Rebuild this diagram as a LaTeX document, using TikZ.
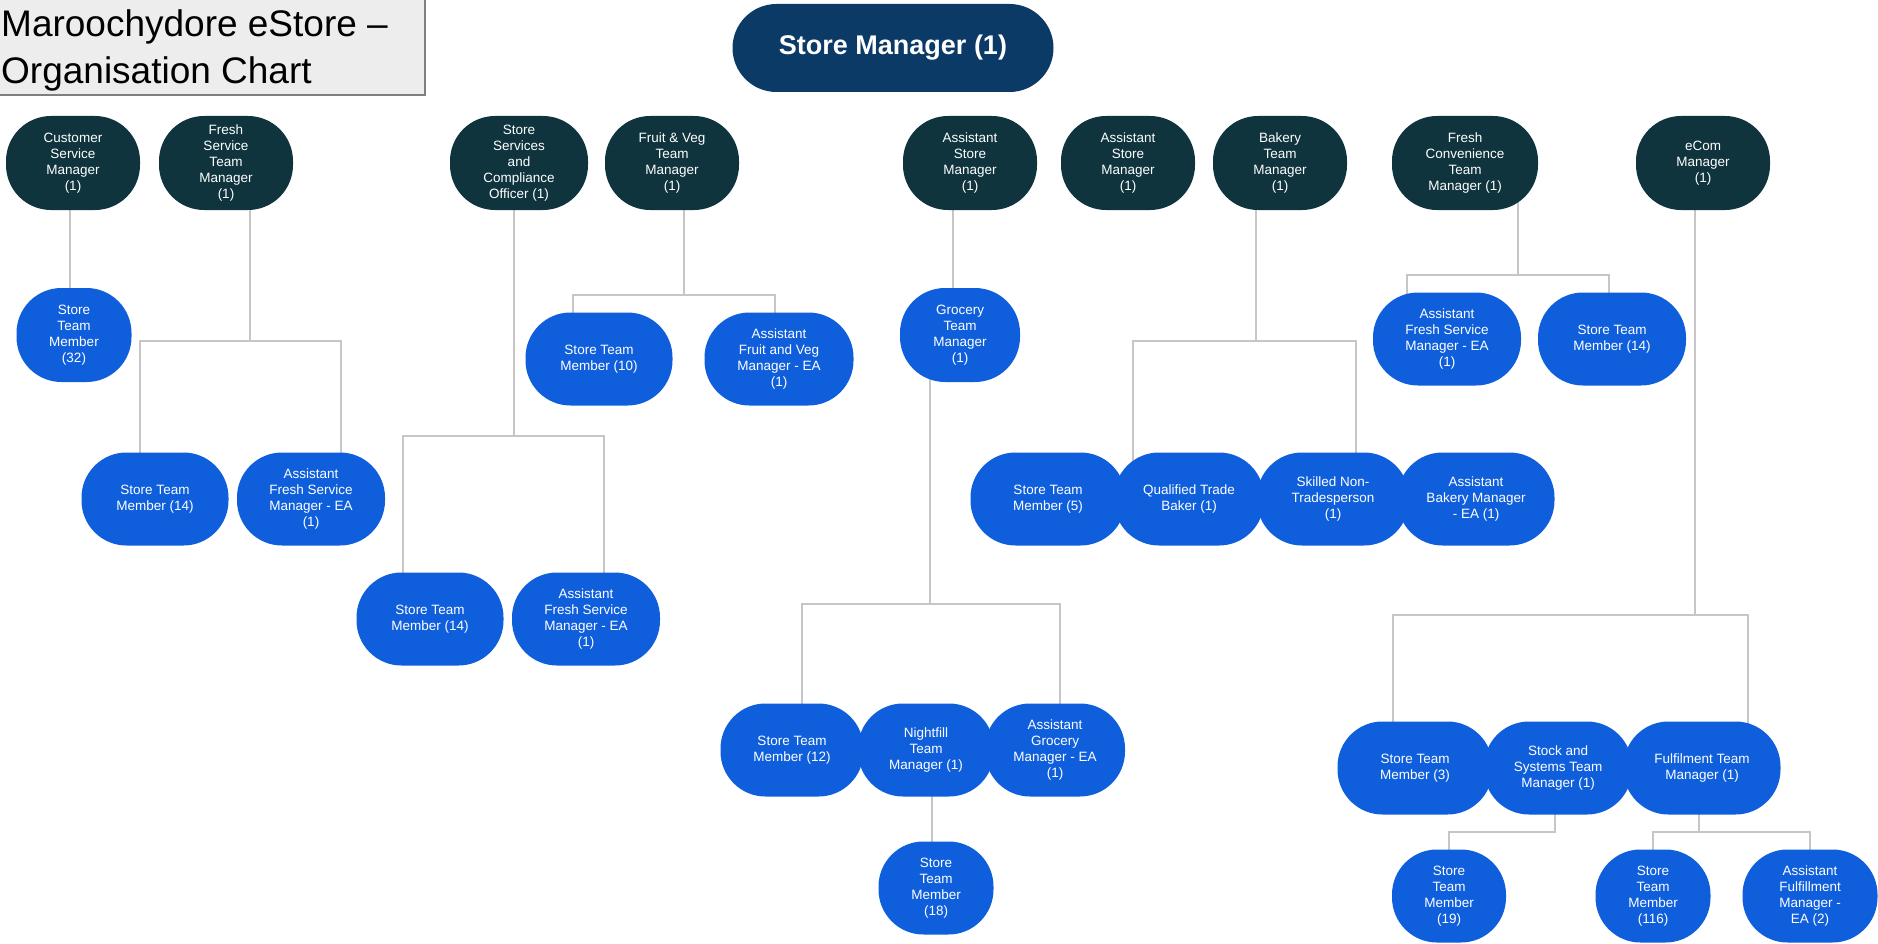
\documentclass[tikz,border=0pt]{standalone}
\usepackage{fontspec}
\setmainfont{Liberation Sans}
\pgfdeclarelayer{bg}
\pgfsetlayers{bg,main}
\definecolor{smnavy}{HTML}{0B3A66}
\definecolor{mgrteal}{HTML}{0F343E}
\definecolor{staffblue}{HTML}{0F5FDD}
\definecolor{linkgray}{HTML}{C6C6C6}
\definecolor{titlefill}{HTML}{EDEDED}
\definecolor{titleedge}{HTML}{7F7F7F}

\begin{document}
\begin{tikzpicture}[x=1pt,y=-1pt,
  box/.style={rectangle,rounded corners=45pt,inner sep=0pt,align=center,text=white,
    font=\fontsize{13.5}{16}\selectfont,minimum height=93pt},
  mgr/.style={box,fill=mgrteal,minimum width=134pt,minimum height=94pt},
  staff/.style={box,fill=staffblue,minimum width=#1},
  staff/.default=147pt,
  link/.style={draw=linkgray,line width=2pt}]
  \useasboundingbox (0,0) rectangle (1878,944);
  \draw[titleedge,fill=titlefill,line width=1.5pt] (-3,-3) rectangle (425,95);
  \node[anchor=north west,inner sep=0pt,align=left,font=\fontsize{37}{47}\selectfont] (title) at (1,9) {Maroochydore eStore –\\Organisation Chart};

  \node[box,fill=smnavy,minimum width=321pt,minimum height=88pt,rounded corners=44pt,
    font=\bfseries\fontsize{27}{32}\selectfont] (sm) at (893,48) {Store Manager (1)};

  \node[mgr] (csm) at (73,163) {Customer\\Service\\Manager\\(1)};
  \node[mgr] (fstm) at (226,163) {Fresh\\Service\\Team\\Manager\\(1)};
  \node[mgr,minimum width=138pt] (ssco) at (519,163) {Store\\Services\\and\\Compliance\\Officer (1)};
  \node[mgr] (fvm) at (672,163) {Fruit \& Veg\\Team\\Manager\\(1)};
  \node[mgr] (asmA) at (970,163) {Assistant\\Store\\Manager\\(1)};
  \node[mgr] (asmB) at (1128,163) {Assistant\\Store\\Manager\\(1)};
  \node[mgr] (btm) at (1280,163) {Bakery\\Team\\Manager\\(1)};
  \node[mgr,minimum width=146pt] (fctm) at (1465,163) {Fresh\\Convenience\\Team\\Manager (1)};
  \node[mgr] (ecom) at (1703,163) {eCom\\Manager\\(1)};

  \node[staff=115pt,minimum height=94pt] (stm32) at (74,335) {Store\\Team\\Member\\(32)};
  \node[staff] (stm14a) at (155,499) {Store Team\\Member (14)};
  \node[staff=148pt] (afsmA) at (311,499) {Assistant\\Fresh Service\\Manager - EA\\(1)};
  \node[staff] (stm14b) at (430,619) {Store Team\\Member (14)};
  \node[staff=148pt] (afsmB) at (586,619) {Assistant\\Fresh Service\\Manager - EA\\(1)};
  \node[staff] (stm10) at (599,359) {Store Team\\Member (10)};
  \node[staff=149pt] (afvm) at (779,359) {Assistant\\Fruit and Veg\\Manager - EA\\(1)};
  \node[staff=120pt,minimum height=94pt] (gtm) at (960,335) {Grocery\\Team\\Manager\\(1)};
  \node[staff=143pt] (stm12) at (792,750) {Store Team\\Member (12)};
  \node[staff=136pt] (ntm) at (926,750) {Nightfill\\Team\\Manager (1)};
  \node[staff=140pt] (agm) at (1055,750) {Assistant\\Grocery\\Manager - EA\\(1)};
  \node[staff=115pt] (stm18) at (936,888) {Store\\Team\\Member\\(18)};
  \node[staff=155pt] (stm5) at (1048,499) {Store Team\\Member (5)};
  \node[staff=150pt] (qtb) at (1189,499) {Qualified Trade\\Baker (1)};
  \node[staff=152pt] (snt) at (1333,499) {Skilled Non-\\Tradesperson\\(1)};
  \node[staff=157pt] (abm) at (1476,499) {Assistant\\Bakery Manager\\- EA (1)};
  \node[staff=148pt] (afsmC) at (1447,339) {Assistant\\Fresh Service\\Manager - EA\\(1)};
  \node[staff=148pt] (stm14c) at (1612,339) {Store Team\\Member (14)};
  \node[staff=155pt] (stm3) at (1415,768) {Store Team\\Member (3)};
  \node[staff=148pt] (sstm) at (1558,768) {Stock and\\Systems Team\\Manager (1)};
  \node[staff=157pt] (ftm) at (1702,768) {Fulfilment Team\\Manager (1)};
  \node[staff=114pt] (stm19) at (1449,896) {Store\\Team\\Member\\(19)};
  \node[staff=115pt] (stm116) at (1653,896) {Store\\Team\\Member\\(116)};
  \node[staff=135pt] (affm) at (1810,896) {Assistant\\Fulfillment\\Manager -\\EA (2)};

  \begin{pgfonlayer}{bg}
    \draw[link] ([xshift=-3pt]csm.center) -- ++(0,172);
    \draw[link] ([xshift=-17pt]asmA.center) -- ++(0,172);
    \draw[link] ([xshift=6pt]ntm.center) -- ++(0,138);
    \foreach \kid/\dx in {stm14a/-15,afsmA/30}
      \draw[link] ([xshift=24pt]fstm.center) -- ++(0,178) -| ([xshift=\dx pt]\kid.center);
    \foreach \kid/\dx in {stm14b/-27,afsmB/18}
      \draw[link] ([xshift=-5pt]ssco.center) -- ++(0,273) -| ([xshift=\dx pt]\kid.center);
    \foreach \kid/\dx in {stm10/-26,afvm/-4}
      \draw[link] ([xshift=12pt]fvm.center) -- ++(0,132) -| ([xshift=\dx pt]\kid.center);
    \foreach \kid/\dx in {stm12/10,agm/5}
      \draw[link] ([xshift=-30pt]gtm.center) -- ++(0,269) -| ([xshift=\dx pt]\kid.center);
    \foreach \kid/\dx in {qtb/-56,snt/23}
      \draw[link] ([xshift=-24pt]btm.center) -- ++(0,178) -| ([xshift=\dx pt]\kid.center);
    \foreach \kid/\dx in {afsmC/-40,stm14c/-3}
      \draw[link] ([xshift=53pt]fctm.center) -- ++(0,112) -| ([xshift=\dx pt]\kid.center);
    \foreach \kid/\dx in {stm3/-22,ftm/46}
      \draw[link] ([xshift=-8pt]ecom.center) -- ++(0,452) -| ([xshift=\dx pt]\kid.center);
    \draw[link] ([xshift=-3pt]sstm.center) -- ++(0,64) -| (stm19.center);
    \foreach \kid in {stm116,affm}
      \draw[link] ([xshift=-3pt]ftm.center) -- ++(0,64) -| (\kid.center);
  \end{pgfonlayer}
\end{tikzpicture}
\end{document}
